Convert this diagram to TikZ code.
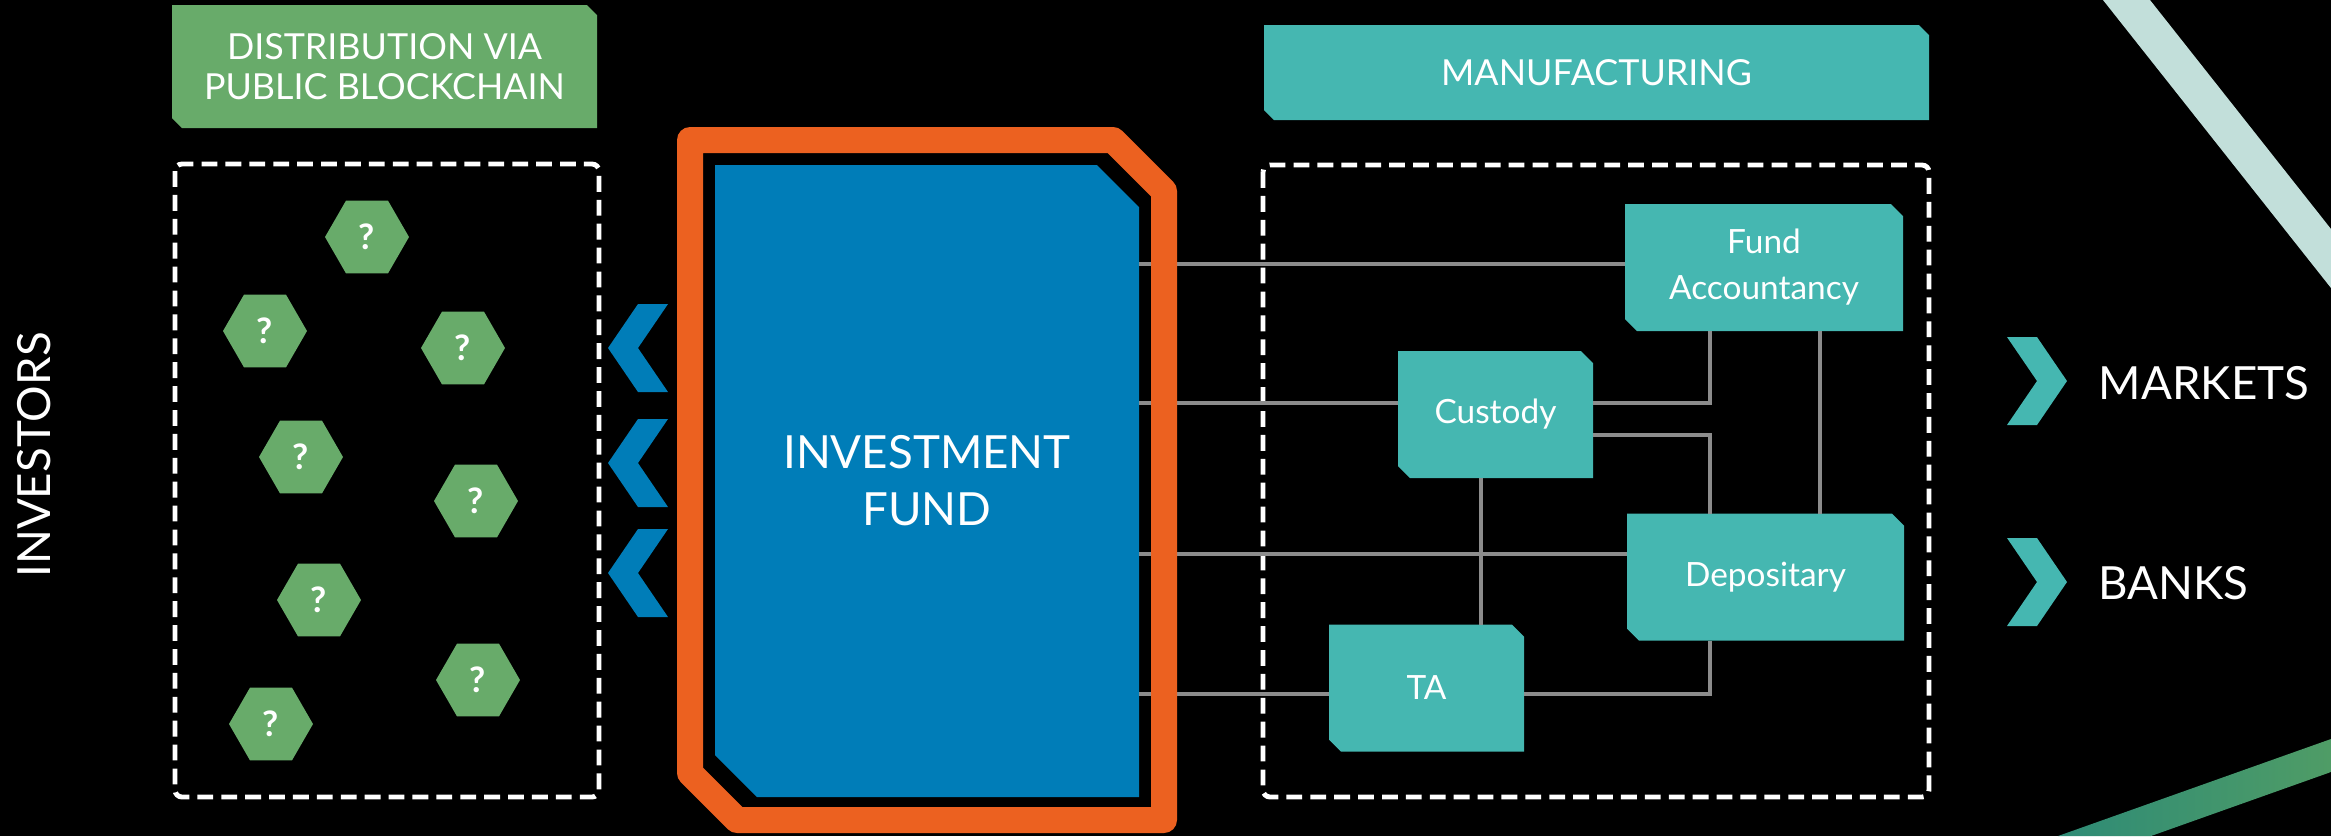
\documentclass[tikz,border=0pt]{standalone}
\usepackage{fontspec}
\setmainfont{Lato}
\usepackage{tikz}
\usetikzlibrary{shapes,positioning,calc,backgrounds}

\definecolor{distgreen}{HTML}{68AB6A}
\definecolor{mfgteal}{HTML}{45B7B1}
\definecolor{fundblue}{HTML}{007DB8}
\definecolor{frameorange}{HTML}{EC6120}
\definecolor{linkgrey}{HTML}{8C8C8C}
\definecolor{paleband}{HTML}{C2DFDA}
\definecolor{bandleft}{HTML}{2E8B76}
\definecolor{bandright}{HTML}{4F9C66}

% chamfered fill behind a node: node, colour, cut
\newcommand{\chamfill}[3]{\fill[#2] (#1.north west) -- ($(#1.north east)+(-#3,0)$) -- ($(#1.north east)+(0,-#3)$) -- (#1.south east) -- ($(#1.south west)+(#3,0)$) -- ($(#1.south west)+(0,#3)$) -- cycle;}

\begin{document}
\begin{tikzpicture}[
    header/.style={rectangle, inner sep=0pt, outer sep=0pt, text=white, align=center, font=\fontsize{10.2}{11.4}\selectfont},
    unit/.style={rectangle, inner sep=0pt, outer sep=0pt, text=white, align=center, minimum height=1.27cm, font=\fontsize{9.5}{13.1}\selectfont},
    fundbox/.style={rectangle, inner sep=0pt, outer sep=0pt, text=white, align=center, minimum width=4.24cm, minimum height=6.32cm, font=\fontsize{13}{16.2}\selectfont},
    frameline/.style={draw=frameorange, line width=7.4pt, line join=round},
    investor/.style={regular polygon, regular polygon sides=6, fill=distgreen, minimum size=0.84cm, inner sep=0pt, text=white, font=\fontsize{10}{12}\selectfont\bfseries},
    sidelabel/.style={inner sep=0pt, text=white, font=\fontsize{13}{15}\selectfont},
    zone/.style={draw=white, line width=1.4pt, dash pattern=on 4.5pt off 2.3pt, rounded corners=2pt},
    link/.style={draw=linkgrey, line width=1pt}
]

% Canvas
\useasboundingbox (0,0) rectangle (23.31,-8.36);
\begin{pgfonlayer}{background}
\fill[black] (0,0) rectangle (23.31,-8.36);
\fill[paleband] (21.03,0) -- (21.50,0) -- (23.31,-2.29) -- (23.31,-2.88) -- cycle;
\shade[left color=bandleft, right color=bandright] (20.58,-8.36) -- (23.31,-7.39) -- (23.31,-7.72) -- (21.51,-8.36) -- cycle;
\end{pgfonlayer}

% Headers
\node[header, minimum width=4.25cm, minimum height=1.23cm] (dist) at (3.845,-0.665) {DISTRIBUTION VIA\\PUBLIC BLOCKCHAIN};
\node[header, minimum width=6.65cm, minimum height=0.95cm] (manu) at (15.965,-0.725) {MANUFACTURING};

% Zones
\draw[zone] (1.75,-1.64) rectangle (5.99,-7.97);
\draw[zone] (12.63,-1.65) rectangle (19.29,-7.97);

% Investors
\foreach \n/\x/\y in {1/3.67/-2.37, 2/2.65/-3.31, 3/4.63/-3.48, 4/3.01/-4.57, 5/4.76/-5.01, 6/3.19/-6.00, 7/4.78/-6.80, 8/2.71/-7.24}
    \node[investor] (inv\n) at (\x,\y) {?};
\node[sidelabel, rotate=90] (investors) at (0.345,-4.55) {INVESTORS};

% Fund
\node[fundbox] (fund) at (9.27,-4.81) {INVESTMENT\\FUND};
\foreach \y in {-3.48,-4.63,-5.73}
    \fill[fundblue] (6.38,\y) ++(0,0.44) -- ++(0.30,0) -- ++(-0.30,-0.44) -- ++(0.30,-0.44) -- ++(-0.30,0) -- ++(-0.30,0.44) -- cycle;

% Service providers
\node[unit, minimum width=2.78cm] (fa) at (17.64,-2.675) {Fund\\Accountancy};
\node[unit, minimum width=1.95cm] (cust) at (14.955,-4.145) {Custody};
\node[unit, minimum width=2.77cm] (dep) at (17.655,-5.77) {Depositary};
\node[unit, minimum width=1.95cm] (ta) at (14.265,-6.88) {TA};

\begin{pgfonlayer}{background}
\chamfill{dist}{distgreen}{0.10}
\chamfill{manu}{mfgteal}{0.10}
\chamfill{fund}{fundblue}{0.42}
\chamfill{fa}{mfgteal}{0.12}
\chamfill{cust}{mfgteal}{0.12}
\chamfill{dep}{mfgteal}{0.12}
\chamfill{ta}{mfgteal}{0.12}
\end{pgfonlayer}

% Rows and columns of links
\coordinate (r1) at (0,-2.64);
\coordinate (r2) at (0,-4.03);
\coordinate (r2b) at (0,-4.35);
\coordinate (r3) at (0,-5.54);
\coordinate (r4) at (0,-6.94);
\coordinate (c0) at (14.81,0);
\coordinate (c1) at (17.10,0);
\coordinate (c2) at (18.20,0);

\draw[link] (fund.east |- r1) -- (fa.west |- r1);
\draw[link] (fund.east |- r2) -- (cust.west |- r2);
\draw[link] (fund.east |- r3) -- (dep.west |- r3);
\draw[link] (fund.east |- r4) -- (ta.west |- r4);
\draw[link] (cust.east |- r2) -| (c1 |- fa.south);
\draw[link] (cust.east |- r2b) -| (c1 |- dep.north);
\draw[link] (c2 |- fa.south) -- (c2 |- dep.north);
\draw[link] (c0 |- cust.south) -- (c0 |- ta.north);
\draw[link] (ta.east |- r4) -| (c1 |- dep.south);

% Frame round the fund
\draw[frameline] ($(fund.north west)+(-0.25,0.25)$) -- ($(fund.north east)+(-0.26,0.25)$) -- ($(fund.north east)+(0.25,-0.26)$) -- ($(fund.south east)+(0.25,-0.23)$) -- ($(fund.south west)+(0.22,-0.23)$) -- ($(fund.south west)+(-0.25,0.24)$) -- cycle;

% Outlets
\foreach \y in {-3.81,-5.82}
    \fill[mfgteal] (20.07,\y) ++(0,0.44) -- ++(0.30,0) -- ++(0.30,-0.44) -- ++(-0.30,-0.44) -- ++(-0.30,0) -- ++(0.30,0.44) -- cycle;
\node[sidelabel, anchor=base west] (markets) at (20.98,-3.99) {MARKETS};
\node[sidelabel, anchor=base west] (banks) at (20.98,-5.99) {BANKS};

\end{tikzpicture}
\end{document}
